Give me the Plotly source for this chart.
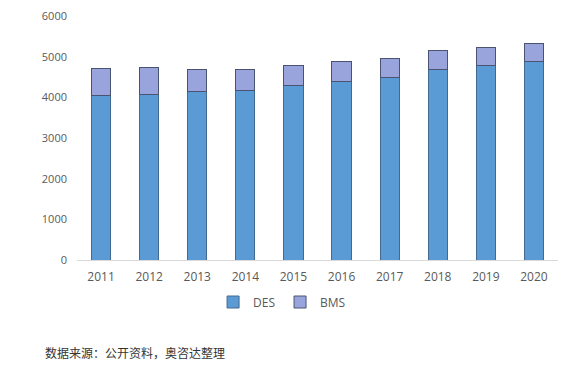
import plotly.graph_objects as go

years = ["2011", "2012", "2013", "2014", "2015", "2016", "2017", "2018", "2019", "2020"]
des = [4050, 4075, 4145, 4170, 4290, 4390, 4485, 4680, 4775, 4875]
bms = [660, 660, 535, 510, 485, 485, 460, 460, 460, 460]
y_ticks = [0, 1000, 2000, 3000, 4000, 5000, 6000]
source_text = "数据来源：公开资料，奥咨达整理"

# page body has an 8px margin, so the figure is sized to fit the 585x379 window
W, H = 577, 371

fig = go.Figure()
fig.add_trace(go.Bar(x=years, y=des, name="DES",
                     marker=dict(color="#5B9BD5", line=dict(color="#44698F", width=1))))
fig.add_trace(go.Bar(x=years, y=bms, name="BMS",
                     marker=dict(color="#98A4DB", line=dict(color="#4A5472", width=1))))

fig.update_layout(
    width=W, height=H,
    barmode="stack", bargap=0.6,
    margin=dict(l=69, r=27, t=8, b=119, autoexpand=False),
    paper_bgcolor="white", plot_bgcolor="white",
    font=dict(family="Open Sans", size=12, color="#595959"),
    showlegend=True,
    legend=dict(orientation="h", xref="container", yref="container",
                x=0.475, xanchor="center", y=1 - 294 / H, yanchor="middle",
                font=dict(size=12, color="#595959"), itemwidth=30, traceorder="normal"),
    xaxis=dict(showgrid=False, showline=True, linecolor="#D9D9D9", linewidth=1,
               ticks="", ticklabelstandoff=6, automargin=False, ticklabeloverflow="allow"),
    yaxis=dict(range=[0, 6000], tickvals=y_ticks, showgrid=False, zeroline=False,
               showline=False, ticks="", ticklabelstandoff=9, automargin=False,
               ticklabeloverflow="allow", tickfont=dict(size=11)),
    annotations=[dict(text=source_text, xref="paper", yref="paper", x=-0.071, y=-0.378,
                      xanchor="left", yanchor="middle", showarrow=False,
                      font=dict(family="Noto Sans CJK SC", size=12, color="#333333"))],
)

fig.write_html("out.html")
